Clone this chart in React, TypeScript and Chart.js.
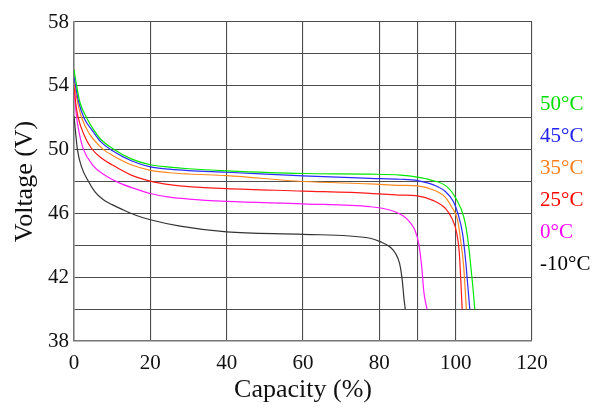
import { useEffect, useRef } from 'react';
import { Chart, registerables } from 'chart.js';

Chart.register(...registerables);

const seriesLabels = ['50°C', '45°C', '35°C', '25°C', '0°C', '-10°C'];
const seriesColors = ['#00e800', '#2a2aff', '#ff8a1e', '#ff1a1a', '#ff1aff', '#333333'];
const legendColors = ['#00e000', '#2020ee', '#ff7f1e', '#ff0000', '#ff00ff', '#000000'];

const cap50 = [0, 0.7, 1.5, 3.3, 5, 7, 10, 15, 20, 25, 30, 40, 60, 77.6, 85.5, 90, 93.3, 97.7, 100.3, 102.1, 103.1, 103.8, 104.5, 105];
const volt50 = [55.0, 54.0, 53.0, 52.0, 51.3, 50.65, 50.09, 49.42, 49.05, 48.9, 48.8, 48.67, 48.5, 48.46, 48.4, 48.27, 48.1, 47.68, 46.84, 45.8, 44.54, 43.08, 41.4, 40];

const cap45 = [0, 0.4, 1.2, 2.6, 5, 7, 10, 15, 20, 25, 30, 40, 60, 77.6, 85.5, 90, 94.2, 97.3, 99.4, 100.7, 101.8, 102.6, 103.2, 103.7];
const volt45 = [54.6, 54.0, 53.0, 52.0, 51.13, 50.5, 49.94, 49.3, 48.92, 48.77, 48.68, 48.58, 48.35, 48.2, 48.14, 48.06, 47.79, 47.37, 46.74, 45.9, 44.75, 43.08, 41.4, 40];

const cap35 = [0, 0.2, 0.9, 2.0, 4, 6, 7.7, 10, 15, 20, 25, 30, 40, 60, 77.6, 85.5, 90, 94.2, 97.3, 98.9, 100.5, 101.3, 102.1, 102.8];
const volt35 = [54.3, 54.0, 53.0, 52.0, 51.0, 50.4, 50.0, 49.65, 49.05, 48.7, 48.55, 48.47, 48.37, 48.0, 47.85, 47.76, 47.72, 47.47, 47.01, 46.42, 45.59, 44.33, 42.66, 40];

const cap25 = [0, 0.4, 1.1, 2.5, 4.5, 7, 10, 15, 20, 25, 30, 40, 60, 77.6, 85, 90, 94.2, 97.3, 99.0, 100.2, 100.9, 101.3, 101.7];
const volt25 = [54.2, 53.0, 52.0, 51.0, 50.1, 49.5, 49.04, 48.4, 48.02, 47.8, 47.68, 47.55, 47.4, 47.26, 47.15, 47.1, 46.8, 46.32, 45.7, 44.85, 43.7, 42.03, 40];

const cap0 = [0, 0.3, 0.7, 1.4, 2.5, 5, 8, 12, 16, 20, 25, 30, 40, 60, 77.6, 82.9, 86.3, 87.9, 89.3, 90.3, 91.1, 91.7, 92.5];
const volt0 = [54.1, 53.0, 52.0, 51.0, 50.0, 49.0, 48.4, 47.9, 47.55, 47.25, 47.02, 46.9, 46.76, 46.6, 46.42, 46.2, 45.84, 45.48, 44.96, 44.13, 42.66, 41.0, 40];

const capM10 = [0, 0.9, 2, 3.8, 5.5, 7.7, 10, 12.6, 16, 20, 27.8, 40, 60, 77.6, 80.2, 82.9, 84.2, 85.3, 86.0, 86.5, 86.8];
const voltM10 = [52.1, 50.0, 48.9, 48.0, 47.35, 46.85, 46.55, 46.25, 45.9, 45.6, 45.2, 44.84, 44.69, 44.44, 44.23, 43.88, 43.5, 42.87, 41.82, 40.56, 40];

const capacitySeries = [cap50, cap45, cap35, cap25, cap0, capM10];
const voltageSeries = [volt50, volt45, volt35, volt25, volt0, voltM10];

const xGridValues = [0, 20, 40, 60, 80, 90, 100, 120];
const xLabelledValues = [0, 20, 40, 60, 80, 100, 120];
const yLabelledValues = [58, 54, 50, 46, 42, 38];

const SERIF = '"Liberation Serif", "Times New Roman", serif';

export default function App() {
  const canvasRef = useRef<HTMLCanvasElement | null>(null);

  useEffect(() => {
    const canvas = canvasRef.current;
    if (!canvas) return;

    const legendPlugin = {
      id: 'sideLabels',
      afterDraw(chart: any) {
        const { ctx, chartArea } = chart;
        ctx.save();
        ctx.font = `21px ${SERIF}`;
        ctx.textAlign = 'left';
        ctx.textBaseline = 'alphabetic';
        seriesLabels.forEach((lab, i) => {
          ctx.fillStyle = legendColors[i];
          ctx.fillText(lab, chartArea.right + 8, chartArea.top + 88 + i * 32);
        });
        ctx.restore();
      },
    };

    const chart = new Chart(canvas, {
      type: 'line',
      data: {
        datasets: seriesLabels.map((lab, i) => ({
          label: lab,
          data: capacitySeries[i].map((c, j) => ({ x: c, y: voltageSeries[i][j] })),
          borderColor: seriesColors[i],
          borderWidth: 1.2,
          pointRadius: 0,
          fill: false,
          cubicInterpolationMode: 'monotone' as const,
        })),
      },
      options: {
        animation: false,
        responsive: true,
        maintainAspectRatio: false,
        layout: { padding: { top: 22, right: 77, left: 0, bottom: 0 } },
        plugins: {
          legend: { display: false },
          tooltip: { enabled: false },
        },
        scales: {
          x: {
            type: 'linear',
            min: 0,
            max: 120,
            afterBuildTicks(scale: any) {
              scale.ticks = xGridValues.map((v) => ({ value: v }));
            },
            afterFit(scale: any) {
              scale.height = 68;
            },
            ticks: {
              autoSkip: false,
              maxRotation: 0,
              padding: 10,
              color: '#111',
              font: { family: SERIF, size: 21 },
              callback: (v: any) => (xLabelledValues.includes(Number(v)) ? String(v) : ''),
            },
            grid: { color: '#4d4d4d', lineWidth: 1.1, drawTicks: false },
            border: { color: '#777', width: 1.5 },
            title: {
              display: true,
              text: 'Capacity (%)',
              color: '#111',
              font: { family: SERIF, size: 26 },
              padding: { top: 0, bottom: 3 },
            },
          },
          y: {
            type: 'linear',
            min: 38,
            max: 58,
            afterFit(scale: any) {
              scale.width = 74;
            },
            ticks: {
              stepSize: 2,
              padding: 5,
              color: '#111',
              font: { family: SERIF, size: 21 },
              callback: (v: any) => (yLabelledValues.includes(Number(v)) ? String(v) : ''),
            },
            grid: { color: '#4d4d4d', lineWidth: 1.1, drawTicks: false },
            border: { color: '#777', width: 1.5 },
            title: {
              display: true,
              text: 'Voltage (V)',
              color: '#111',
              font: { family: SERIF, size: 26 },
              padding: { top: 10, bottom: 0 },
            },
          },
        },
      },
      plugins: [legendPlugin],
    });

    return () => chart.destroy();
  }, []);

  return (
    <div style={{ position: 'absolute', left: 0, top: 0, width: 609, height: 409, background: '#fff' }}>
      <canvas ref={canvasRef} />
    </div>
  );
}
